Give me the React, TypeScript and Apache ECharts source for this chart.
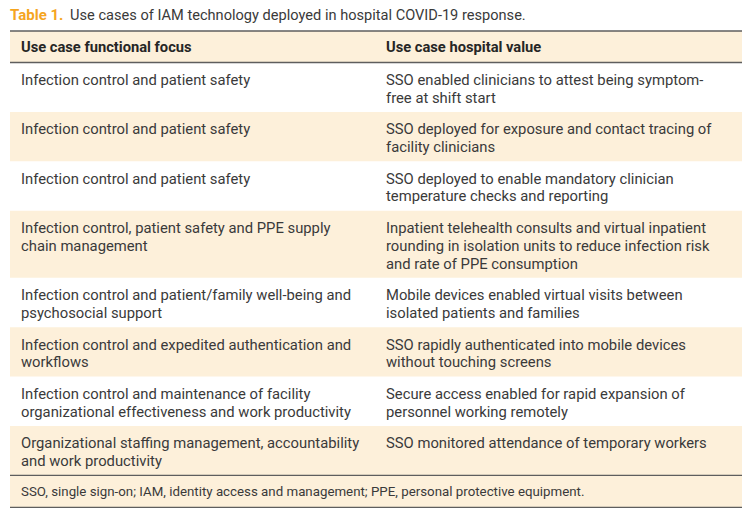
import React, { useEffect, useRef } from "react";
import * as echarts from "echarts";

const titleLabel = "Table 1.";
const titleText = "Use cases of IAM technology deployed in hospital COVID-19 response.";
const headers = ["Use case functional focus", "Use case hospital value"];
const focusCol = [
  "Infection control and patient safety",
  "Infection control and patient safety",
  "Infection control and patient safety",
  "Infection control, patient safety and PPE supply\nchain management",
  "Infection control and patient/family well-being and\npsychosocial support",
  "Infection control and expedited authentication and\nworkflows",
  "Infection control and maintenance of facility\norganizational effectiveness and work productivity",
  "Organizational staffing management, accountability\nand work productivity",
];
const valueCol = [
  "SSO enabled clinicians to attest being symptom-\nfree at shift start",
  "SSO deployed for exposure and contact tracing of\nfacility clinicians",
  "SSO deployed to enable mandatory clinician\ntemperature checks and reporting",
  "Inpatient telehealth consults and virtual inpatient\nrounding in isolation units to reduce infection risk\nand rate of PPE consumption",
  "Mobile devices enabled virtual visits between\nisolated patients and families",
  "SSO rapidly authenticated into mobile devices\nwithout touching screens",
  "Secure access enabled for rapid expansion of\npersonnel working remotely",
  "SSO monitored attendance of temporary workers",
];
const footnote =
  "SSO, single sign-on; IAM, identity access and management; PPE, personal protective equipment.";

export default function App() {
  const ref = useRef<HTMLDivElement>(null);
  useEffect(() => {
    if (!ref.current) return;
    const chart = echarts.init(ref.current, null, { renderer: "svg" });
    const FONT = "Roboto";
    const TEXT = "#3a3a3a";
    const BEIGE = "#fdf0da";
    const LINE = "#5e5e5e";
    const L = 10, R = 742, C2 = 386, C1 = 21;
    const LH = 17.7;
    const els: any[] = [];

    els.push({
      type: "text",
      left: L,
      top: 7,
      style: {
        text: `{a|${titleLabel}}  {b|${titleText}}`,
        rich: {
          a: { fontFamily: FONT, fontSize: 15, fontWeight: "bold", fill: "#f5a51f" },
          b: { fontFamily: FONT, fontSize: 14.6, fill: TEXT },
        },
      },
    });

    const headTop = 31, headBot = 62.5;
    els.push({ type: "rect", shape: { x: L, y: headTop, width: R - L, height: headBot - headTop }, style: { fill: BEIGE } });
    headers.forEach((h, i) => {
      els.push({
        type: "text",
        x: i === 0 ? C1 : C2,
        y: (headTop + headBot) / 2,
        style: { text: h, fontFamily: FONT, fontSize: 14.7, fontWeight: "bold", fill: "#262626", verticalAlign: "middle" },
      });
    });

    let y = headBot;
    focusCol.forEach((f, i) => {
      const n = Math.max(f.split("\n").length, valueCol[i].split("\n").length);
      const h = 14 + n * LH;
      if (i % 2 === 1) {
        els.push({ type: "rect", shape: { x: L, y, width: R - L, height: h }, style: { fill: BEIGE } });
      }
      [f, valueCol[i]].forEach((t, j) => {
        els.push({
          type: "text",
          x: j === 0 ? C1 : C2,
          y: y + 8.6,
          style: { text: t, fontFamily: FONT, fontSize: 14.8, fill: TEXT, lineHeight: LH, verticalAlign: "top" },
        });
      });
      y += h;
    });

    const footTop = y, footBot = y + 32;
    els.push({ type: "rect", shape: { x: L, y: footTop, width: R - L, height: footBot - footTop }, style: { fill: BEIGE } });
    els.push({
      type: "text",
      x: C1,
      y: (footTop + footBot) / 2,
      style: { text: footnote, fontFamily: FONT, fontSize: 13.3, fill: TEXT, verticalAlign: "middle" },
    });

    [headTop, headBot, footTop, footBot].forEach((ly) => {
      els.push({ type: "line", shape: { x1: L, y1: ly, x2: R, y2: ly }, style: { stroke: LINE, lineWidth: 1.3 } });
    });

    chart.setOption({ animation: false, backgroundColor: "#ffffff", graphic: { elements: els } });
    return () => chart.dispose();
  }, []);
  return <div ref={ref} style={{ width: 752, height: 520, position: "absolute", left: 0, top: 0 }} />;
}
